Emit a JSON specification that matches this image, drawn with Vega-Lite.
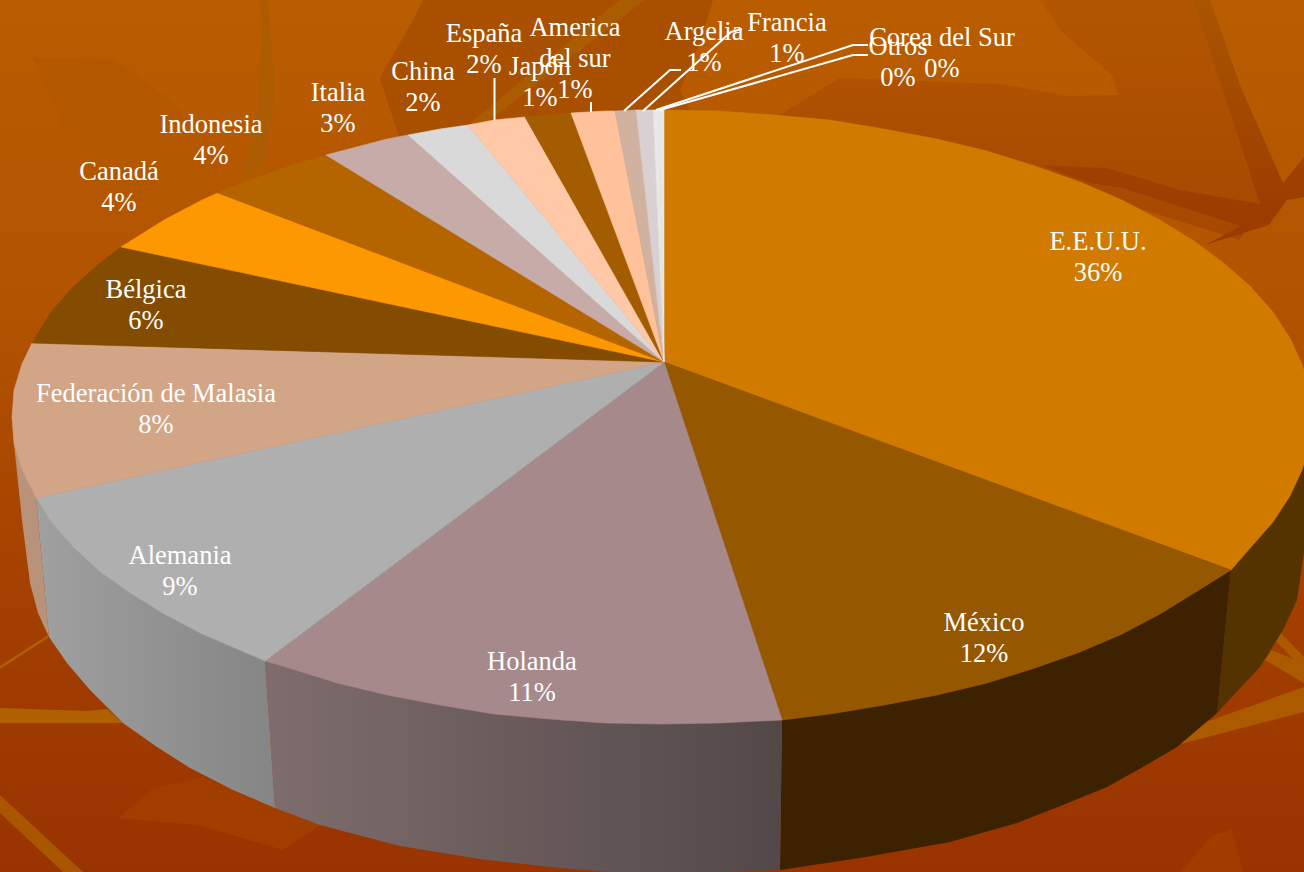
{"$schema":"https://vega.github.io/schema/vega-lite/v6.json","width":1304,"height":872,"padding":0,"autosize":{"type":"none"},"background":"#a85000","config":{"view":{"stroke":null}},"resolve":{"scale":{"fill":"independent","stroke":"independent"}},
"datasets":{
"fondo":[
{"s":"a","i":0,"x":380,"y":78},{"s":"a","i":1,"x":413,"y":20},{"s":"a","i":2,"x":423,"y":0},{"s":"a","i":3,"x":713,"y":0},{"s":"a","i":4,"x":700,"y":43},{"s":"a","i":5,"x":680,"y":90},{"s":"a","i":6,"x":690,"y":110},{"s":"a","i":7,"x":400,"y":140},
{"s":"d","i":0,"x":620,"y":0},{"s":"d","i":1,"x":645,"y":0},{"s":"d","i":2,"x":490,"y":120},{"s":"d","i":3,"x":468,"y":125},
{"s":"d2","i":0,"x":260,"y":0},{"s":"d2","i":1,"x":268,"y":0},{"s":"d2","i":2,"x":275,"y":93},{"s":"d2","i":3,"x":263,"y":173},{"s":"d2","i":4,"x":243,"y":173},{"s":"d2","i":5,"x":258,"y":107},{"s":"d2","i":6,"x":262,"y":33},
{"s":"e","i":0,"x":1203,"y":723},{"s":"e","i":1,"x":1304,"y":687},{"s":"e","i":2,"x":1304,"y":712},{"s":"e","i":3,"x":1177,"y":745},
{"s":"f","i":0,"x":1278,"y":630},{"s":"f","i":1,"x":1304,"y":657},{"s":"f","i":2,"x":1304,"y":683},{"s":"f","i":3,"x":1265,"y":660},{"s":"f","i":4,"x":1272,"y":650},{"s":"f","i":5,"x":1293,"y":659},{"s":"f","i":6,"x":1275,"y":640},
{"s":"g","i":0,"x":0,"y":708},{"s":"g","i":1,"x":88,"y":711},{"s":"g","i":2,"x":107,"y":709},{"s":"g","i":3,"x":123,"y":723},{"s":"g","i":4,"x":0,"y":723},
{"s":"h","i":0,"x":48,"y":635},{"s":"h","i":1,"x":0,"y":666},{"s":"h","i":2,"x":0,"y":669},{"s":"h","i":3,"x":48,"y":638},
{"s":"j","i":0,"x":0,"y":795},{"s":"j","i":1,"x":83,"y":872},{"s":"j","i":2,"x":63,"y":872},{"s":"j","i":3,"x":0,"y":813},
{"s":"k","i":0,"x":118,"y":818},{"s":"k","i":1,"x":153,"y":788},{"s":"k","i":2,"x":203,"y":777},{"s":"k","i":3,"x":320,"y":825},{"s":"k","i":4,"x":283,"y":850},{"s":"k","i":5,"x":197,"y":825},
{"s":"m","i":0,"x":1180,"y":872},{"s":"m","i":1,"x":1213,"y":835},{"s":"m","i":2,"x":1232,"y":830},{"s":"m","i":3,"x":1243,"y":872},
{"s":"n","i":0,"x":32,"y":57},{"s":"n","i":1,"x":115,"y":60},{"s":"n","i":2,"x":170,"y":100},{"s":"n","i":3,"x":217,"y":150},{"s":"n","i":4,"x":217,"y":190},{"s":"n","i":5,"x":170,"y":215},{"s":"n","i":6,"x":100,"y":190},{"s":"n","i":7,"x":65,"y":130}
],
"zonab":[
{"i":0,"x":763,"y":125},{"i":1,"x":840,"y":78},{"i":2,"x":1000,"y":84},{"i":3,"x":1070,"y":96},{"i":4,"x":1118,"y":95},{"i":5,"x":1112,"y":75},{"i":6,"x":1062,"y":32},{"i":7,"x":1040,"y":0},{"i":8,"x":1193,"y":0},{"i":9,"x":1260,"y":204},{"i":10,"x":1240,"y":240},{"i":11,"x":1000,"y":165}
],
"rama":[
{"i":0,"x":1040,"y":165},{"i":1,"x":1107,"y":168},{"i":2,"x":1180,"y":190},{"i":3,"x":1260,"y":204},{"i":4,"x":1193,"y":0},{"i":5,"x":1210,"y":0},{"i":6,"x":1240,"y":85},{"i":7,"x":1283,"y":183},{"i":8,"x":1304,"y":157},{"i":9,"x":1304,"y":197},{"i":10,"x":1287,"y":200},{"i":11,"x":1269,"y":225},{"i":12,"x":1205,"y":245},{"i":13,"x":1241,"y":226},{"i":14,"x":1122,"y":188},{"i":15,"x":1090,"y":183}
],
"caras":[
{"p":"E.E.U.U.","i":0,"x":1231,"y":570},{"p":"E.E.U.U.","i":1,"x":1251,"y":547},{"p":"E.E.U.U.","i":2,"x":1273,"y":522},{"p":"E.E.U.U.","i":3,"x":1290,"y":496},{"p":"E.E.U.U.","i":4,"x":1302,"y":470},{"p":"E.E.U.U.","i":5,"x":1310,"y":444},{"p":"E.E.U.U.","i":6,"x":1310,"y":510},{"p":"E.E.U.U.","i":7,"x":1304,"y":553},{"p":"E.E.U.U.","i":8,"x":1297,"y":600},{"p":"E.E.U.U.","i":9,"x":1283,"y":630},{"p":"E.E.U.U.","i":10,"x":1260,"y":667},{"p":"E.E.U.U.","i":11,"x":1217,"y":713},
{"p":"México","i":0,"x":1231,"y":570},{"p":"México","i":1,"x":1194,"y":593},{"p":"México","i":2,"x":1160,"y":614},{"p":"México","i":3,"x":1122,"y":634},{"p":"México","i":4,"x":1080,"y":652},{"p":"México","i":5,"x":1035,"y":668},{"p":"México","i":6,"x":987,"y":683},{"p":"México","i":7,"x":937,"y":695},{"p":"México","i":8,"x":884,"y":705},{"p":"México","i":9,"x":830,"y":714},{"p":"México","i":10,"x":782,"y":720},{"p":"México","i":11,"x":780,"y":870},{"p":"México","i":12,"x":860,"y":858},{"p":"México","i":13,"x":950,"y":842},{"p":"México","i":14,"x":1017,"y":823},{"p":"México","i":15,"x":1063,"y":805},{"p":"México","i":16,"x":1107,"y":787},{"p":"México","i":17,"x":1150,"y":763},{"p":"México","i":18,"x":1177,"y":747},{"p":"México","i":19,"x":1217,"y":713},
{"p":"Federación de Malasia","i":0,"x":36,"y":498},{"p":"Federación de Malasia","i":1,"x":22,"y":470},{"p":"Federación de Malasia","i":2,"x":14,"y":444},{"p":"Federación de Malasia","i":3,"x":22,"y":520},{"p":"Federación de Malasia","i":4,"x":30,"y":583},{"p":"Federación de Malasia","i":5,"x":38,"y":613},{"p":"Federación de Malasia","i":6,"x":49,"y":637}
],
"holanda":[
{"i":0,"x":782,"y":720},{"i":1,"x":719,"y":723},{"i":2,"x":662,"y":724},{"i":3,"x":605,"y":723},{"i":4,"x":549,"y":719},{"i":5,"x":494,"y":714},{"i":6,"x":440,"y":705},{"i":7,"x":387,"y":695},{"i":8,"x":337,"y":683},{"i":9,"x":289,"y":668},{"i":10,"x":265,"y":661},{"i":11,"x":275,"y":808},{"i":12,"x":320,"y":825},{"i":13,"x":400,"y":846},{"i":14,"x":480,"y":859},{"i":15,"x":560,"y":868},{"i":16,"x":620,"y":873},{"i":17,"x":700,"y":873},{"i":18,"x":780,"y":870}
],
"alemania":[
{"i":0,"x":265,"y":661},{"i":1,"x":244,"y":652},{"i":2,"x":202,"y":634},{"i":3,"x":164,"y":614},{"i":4,"x":130,"y":593},{"i":5,"x":99,"y":571},{"i":6,"x":73,"y":547},{"i":7,"x":51,"y":522},{"i":8,"x":36,"y":498},{"i":9,"x":49,"y":637},{"i":10,"x":67,"y":663},{"i":11,"x":90,"y":690},{"i":12,"x":123,"y":723},{"i":13,"x":157,"y":747},{"i":14,"x":190,"y":768},{"i":15,"x":233,"y":790},{"i":16,"x":275,"y":808}
],
"tapa":[
{"p":"E.E.U.U.","i":0,"x":664,"y":362},{"p":"E.E.U.U.","i":1,"x":664,"y":110},{"p":"E.E.U.U.","i":2,"x":719,"y":111},{"p":"E.E.U.U.","i":3,"x":775,"y":115},{"p":"E.E.U.U.","i":4,"x":830,"y":120},{"p":"E.E.U.U.","i":5,"x":884,"y":129},{"p":"E.E.U.U.","i":6,"x":937,"y":139},{"p":"E.E.U.U.","i":7,"x":987,"y":151},{"p":"E.E.U.U.","i":8,"x":1035,"y":166},{"p":"E.E.U.U.","i":9,"x":1080,"y":182},{"p":"E.E.U.U.","i":10,"x":1122,"y":200},{"p":"E.E.U.U.","i":11,"x":1160,"y":220},{"p":"E.E.U.U.","i":12,"x":1194,"y":241},{"p":"E.E.U.U.","i":13,"x":1225,"y":264},{"p":"E.E.U.U.","i":14,"x":1251,"y":287},{"p":"E.E.U.U.","i":15,"x":1273,"y":312},{"p":"E.E.U.U.","i":16,"x":1290,"y":338},{"p":"E.E.U.U.","i":17,"x":1302,"y":364},{"p":"E.E.U.U.","i":18,"x":1310,"y":390},{"p":"E.E.U.U.","i":19,"x":1312,"y":417},{"p":"E.E.U.U.","i":20,"x":1310,"y":444},{"p":"E.E.U.U.","i":21,"x":1302,"y":470},{"p":"E.E.U.U.","i":22,"x":1290,"y":496},{"p":"E.E.U.U.","i":23,"x":1273,"y":522},{"p":"E.E.U.U.","i":24,"x":1251,"y":547},{"p":"E.E.U.U.","i":25,"x":1231,"y":570},
{"p":"México","i":0,"x":664,"y":362},{"p":"México","i":1,"x":1231,"y":570},{"p":"México","i":2,"x":1194,"y":593},{"p":"México","i":3,"x":1160,"y":614},{"p":"México","i":4,"x":1122,"y":634},{"p":"México","i":5,"x":1080,"y":652},{"p":"México","i":6,"x":1035,"y":668},{"p":"México","i":7,"x":987,"y":683},{"p":"México","i":8,"x":937,"y":695},{"p":"México","i":9,"x":884,"y":705},{"p":"México","i":10,"x":830,"y":714},{"p":"México","i":11,"x":782,"y":720},
{"p":"Holanda","i":0,"x":664,"y":362},{"p":"Holanda","i":1,"x":782,"y":720},{"p":"Holanda","i":2,"x":719,"y":723},{"p":"Holanda","i":3,"x":662,"y":724},{"p":"Holanda","i":4,"x":605,"y":723},{"p":"Holanda","i":5,"x":549,"y":719},{"p":"Holanda","i":6,"x":494,"y":714},{"p":"Holanda","i":7,"x":440,"y":705},{"p":"Holanda","i":8,"x":387,"y":695},{"p":"Holanda","i":9,"x":337,"y":683},{"p":"Holanda","i":10,"x":289,"y":668},{"p":"Holanda","i":11,"x":265,"y":661},
{"p":"Alemania","i":0,"x":664,"y":362},{"p":"Alemania","i":1,"x":265,"y":661},{"p":"Alemania","i":2,"x":244,"y":652},{"p":"Alemania","i":3,"x":202,"y":634},{"p":"Alemania","i":4,"x":164,"y":614},{"p":"Alemania","i":5,"x":130,"y":593},{"p":"Alemania","i":6,"x":99,"y":571},{"p":"Alemania","i":7,"x":73,"y":547},{"p":"Alemania","i":8,"x":51,"y":522},{"p":"Alemania","i":9,"x":36,"y":498},
{"p":"Federación de Malasia","i":0,"x":664,"y":362},{"p":"Federación de Malasia","i":1,"x":36,"y":498},{"p":"Federación de Malasia","i":2,"x":22,"y":470},{"p":"Federación de Malasia","i":3,"x":14,"y":444},{"p":"Federación de Malasia","i":4,"x":12,"y":417},{"p":"Federación de Malasia","i":5,"x":14,"y":390},{"p":"Federación de Malasia","i":6,"x":22,"y":364},{"p":"Federación de Malasia","i":7,"x":32,"y":343},
{"p":"Bélgica","i":0,"x":664,"y":362},{"p":"Bélgica","i":1,"x":32,"y":343},{"p":"Bélgica","i":2,"x":51,"y":312},{"p":"Bélgica","i":3,"x":73,"y":287},{"p":"Bélgica","i":4,"x":99,"y":264},{"p":"Bélgica","i":5,"x":121,"y":247},
{"p":"Canadá","i":0,"x":664,"y":362},{"p":"Canadá","i":1,"x":121,"y":247},{"p":"Canadá","i":2,"x":164,"y":220},{"p":"Canadá","i":3,"x":202,"y":200},{"p":"Canadá","i":4,"x":218,"y":193},
{"p":"Indonesia","i":0,"x":664,"y":362},{"p":"Indonesia","i":1,"x":218,"y":193},{"p":"Indonesia","i":2,"x":244,"y":182},{"p":"Indonesia","i":3,"x":289,"y":166},{"p":"Indonesia","i":4,"x":326,"y":155},
{"p":"Italia","i":0,"x":664,"y":362},{"p":"Italia","i":1,"x":326,"y":155},{"p":"Italia","i":2,"x":387,"y":139},{"p":"Italia","i":3,"x":408,"y":135},
{"p":"China","i":0,"x":664,"y":362},{"p":"China","i":1,"x":408,"y":135},{"p":"China","i":2,"x":440,"y":129},{"p":"China","i":3,"x":468,"y":125},
{"p":"España","i":0,"x":664,"y":362},{"p":"España","i":1,"x":468,"y":125},{"p":"España","i":2,"x":494,"y":120},{"p":"España","i":3,"x":525,"y":117},
{"p":"Japón","i":0,"x":664,"y":362},{"p":"Japón","i":1,"x":525,"y":117},{"p":"Japón","i":2,"x":549,"y":115},{"p":"Japón","i":3,"x":571,"y":113},
{"p":"America del sur","i":0,"x":664,"y":362},{"p":"America del sur","i":1,"x":571,"y":113},{"p":"America del sur","i":2,"x":605,"y":111},{"p":"America del sur","i":3,"x":615,"y":111},
{"p":"Argelia","i":0,"x":664,"y":362},{"p":"Argelia","i":1,"x":615,"y":111},{"p":"Argelia","i":2,"x":636,"y":110},
{"p":"Francia","i":0,"x":664,"y":362},{"p":"Francia","i":1,"x":636,"y":110},{"p":"Francia","i":2,"x":653,"y":110},
{"p":"Corea del Sur","i":0,"x":664,"y":362},{"p":"Corea del Sur","i":1,"x":653,"y":110},{"p":"Corea del Sur","i":2,"x":659,"y":110},
{"p":"Otros","i":0,"x":664,"y":362},{"p":"Otros","i":1,"x":659,"y":110},{"p":"Otros","i":2,"x":664,"y":110}
],
"guias":[
{"p":"España","i":0,"x":494.5,"y":78},{"p":"España","i":1,"x":494.5,"y":120},
{"p":"America del sur","i":0,"x":591,"y":102},{"p":"America del sur","i":1,"x":591,"y":112},
{"p":"Argelia","i":0,"x":681,"y":70},{"p":"Argelia","i":1,"x":670,"y":70},{"p":"Argelia","i":2,"x":624,"y":111},
{"p":"Francia","i":0,"x":742,"y":29},{"p":"Francia","i":1,"x":731,"y":32},{"p":"Francia","i":2,"x":643,"y":111},
{"p":"Corea del Sur","i":0,"x":868,"y":45},{"p":"Corea del Sur","i":1,"x":853,"y":45},{"p":"Corea del Sur","i":2,"x":656,"y":110},
{"p":"Otros","i":0,"x":868,"y":55},{"p":"Otros","i":1,"x":853,"y":55},{"p":"Otros","i":2,"x":660,"y":110}
],
"etiquetas":[
{"t":"E.E.U.U.\n36%","x":1098,"y":241},{"t":"México\n12%","x":984,"y":622},{"t":"Holanda\n11%","x":532,"y":661},{"t":"Alemania\n9%","x":180,"y":555},{"t":"Federación de Malasia\n8%","x":156,"y":393},{"t":"Bélgica\n6%","x":146,"y":289},{"t":"Canadá\n4%","x":119,"y":171},{"t":"Indonesia\n4%","x":211,"y":124},{"t":"Italia\n3%","x":338,"y":92},{"t":"China\n2%","x":423,"y":71},{"t":"España\n2%","x":484,"y":33},{"t":"Japón\n1%","x":540,"y":66},{"t":"America\ndel sur\n1%","x":575,"y":27},{"t":"Argelia\n1%","x":704,"y":31},{"t":"Francia\n1%","x":787,"y":22},{"t":"Corea del Sur\n0%","x":942,"y":37},{"t":"Otros\n0%","x":898,"y":46}
]},
"layer":[
{"data":{"values":[{"x":0,"x2":1304,"y":0,"y2":872}]},"mark":{"type":"rect","clip":true,"fill":{"gradient":"linear","x1":0,"y1":0,"x2":0,"y2":1,"stops":[{"offset":0,"color":"#ba5d00"},{"offset":0.35,"color":"#b25300"},{"offset":0.7,"color":"#a33f00"},{"offset":1,"color":"#993300"}]}},
"encoding":{"x":{"field":"x","type":"quantitative","scale":{"domain":[0,1304],"nice":false,"zero":false},"axis":null},"x2":{"field":"x2"},"y":{"field":"y","type":"quantitative","scale":{"domain":[0,872],"reverse":true,"nice":false,"zero":false},"axis":null},"y2":{"field":"y2"}}},
{"data":{"name":"zonab"},"mark":{"type":"line","interpolate":"linear-closed","clip":true,"strokeWidth":0,"fill":{"gradient":"linear","x1":0,"y1":0,"x2":0,"y2":1,"stops":[{"offset":0,"color":"#b35600"},{"offset":1,"color":"#a64800"}]}},
"encoding":{"x":{"field":"x","type":"quantitative","axis":null},"y":{"field":"y","type":"quantitative","axis":null},"order":{"field":"i"},"stroke":{"value":null}}},
{"data":{"name":"rama"},"mark":{"type":"line","interpolate":"linear-closed","clip":true,"strokeWidth":0,"fill":{"gradient":"linear","x1":0,"y1":0,"x2":0,"y2":1,"stops":[{"offset":0,"color":"#a85600"},{"offset":0.6,"color":"#a04400"},{"offset":1,"color":"#9a3a00"}]}},
"encoding":{"x":{"field":"x","type":"quantitative","axis":null},"y":{"field":"y","type":"quantitative","axis":null},"order":{"field":"i"},"stroke":{"value":null}}},
{"data":{"name":"fondo"},"mark":{"type":"line","interpolate":"linear-closed","clip":true,"strokeWidth":0},
"encoding":{"x":{"field":"x","type":"quantitative","axis":null},"y":{"field":"y","type":"quantitative","axis":null},"order":{"field":"i"},"fill":{"field":"s","legend":null,"scale":{"domain":["a","d","d2","e","f","g","h","j","k","m","n"],"range":["#a85000","#ab5c00","#ab5c00","#ab5a00","#ab5a00","#b06000","#b06000","#aa5500","#a23d00","#a13c00","#b45800"]}},"stroke":{"value":null}}},
{"data":{"name":"caras"},"mark":{"type":"line","interpolate":"linear-closed","clip":true,"strokeWidth":0},
"encoding":{"x":{"field":"x","type":"quantitative","axis":null},"y":{"field":"y","type":"quantitative","axis":null},"order":{"field":"i"},"fill":{"field":"p","legend":null,"scale":{"domain":["E.E.U.U.","México","Federación de Malasia"],"range":["#553300","#3c2200","#b99379"]}},"stroke":{"value":null}}},
{"data":{"name":"holanda"},"mark":{"type":"line","interpolate":"linear-closed","clip":true,"strokeWidth":0,"fill":{"gradient":"linear","x1":0,"y1":0,"x2":1,"y2":0,"stops":[{"offset":0,"color":"#7f6d6d"},{"offset":1,"color":"#534848"}]}},
"encoding":{"x":{"field":"x","type":"quantitative","axis":null},"y":{"field":"y","type":"quantitative","axis":null},"order":{"field":"i"},"stroke":{"value":null}}},
{"data":{"name":"alemania"},"mark":{"type":"line","interpolate":"linear-closed","clip":true,"strokeWidth":0,"fill":{"gradient":"linear","x1":0,"y1":0,"x2":1,"y2":0,"stops":[{"offset":0,"color":"#a0a0a0"},{"offset":1,"color":"#858585"}]}},
"encoding":{"x":{"field":"x","type":"quantitative","axis":null},"y":{"field":"y","type":"quantitative","axis":null},"order":{"field":"i"},"stroke":{"value":null}}},
{"data":{"name":"tapa"},"mark":{"type":"line","interpolate":"linear-closed","clip":true,"strokeWidth":0.6},
"encoding":{"x":{"field":"x","type":"quantitative","axis":null},"y":{"field":"y","type":"quantitative","axis":null},"order":{"field":"i"},"fill":{"field":"p","legend":null,"scale":{"domain":["E.E.U.U.","México","Holanda","Alemania","Federación de Malasia","Bélgica","Canadá","Indonesia","Italia","China","España","Japón","America del sur","Argelia","Francia","Corea del Sur","Otros"],"range":["#d07a00","#955700","#a68a8b","#afafaf","#d2a587","#834c00","#fd9800","#b56500","#c6aba8","#d9d9d9","#ffc8a6","#a35c00","#ffc29b","#d1b1a0","#d9d0d3","#e8e8e8","#e8e8e8"]}},"stroke":{"field":"p","legend":null,"scale":{"domain":["E.E.U.U.","México","Holanda","Alemania","Federación de Malasia","Bélgica","Canadá","Indonesia","Italia","China","España","Japón","America del sur","Argelia","Francia","Corea del Sur","Otros"],"range":["#d07a00","#955700","#a68a8b","#afafaf","#d2a587","#834c00","#fd9800","#b56500","#c6aba8","#d9d9d9","#ffc8a6","#a35c00","#ffc29b","#d1b1a0","#d9d0d3","#e8e8e8","#e8e8e8"]}}}},
{"data":{"name":"guias"},"mark":{"type":"line","clip":true,"stroke":"#ffffff","strokeWidth":2},
"encoding":{"x":{"field":"x","type":"quantitative","axis":null},"y":{"field":"y","type":"quantitative","axis":null},"order":{"field":"i"},"detail":{"field":"p"}}},
{"data":{"name":"etiquetas"},"mark":{"type":"text","font":"Liberation Serif","fontSize":26.5,"fill":"#ffffff","align":"center","baseline":"middle","lineBreak":"\n","lineHeight":31,"dy":1},
"encoding":{"x":{"field":"x","type":"quantitative","axis":null},"y":{"field":"y","type":"quantitative","axis":null},"text":{"field":"t"}}}
]}
